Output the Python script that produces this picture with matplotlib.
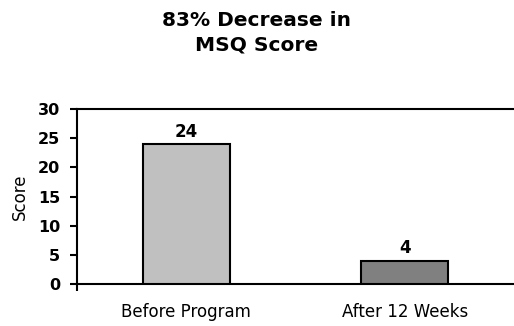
import matplotlib
matplotlib.use("Agg")
import matplotlib.pyplot as plt
from matplotlib.ticker import FixedLocator

categories = ["Before Program", "After 12 Weeks"]
scores = [24, 4]
bar_colors = ["#c0c0c0", "#808080"]
y_ticks = [0, 5, 10, 15, 20, 25, 30]

plt.rcParams["font.family"] = ["DejaVu Sans"]

fig = plt.figure(figsize=(5.14, 3.26), dpi=100)
ax = fig.add_axes([0.1498, 0.1288, 0.8502, 0.5368])

x = list(range(len(categories)))
bars = ax.bar(x, scores, width=0.4, color=bar_colors, edgecolor="black", linewidth=1.5, zorder=3)
for xi, v in zip(x, scores):
    ax.text(xi, v + 0.6, f"{v}", ha="center", va="bottom", fontsize=12, fontweight="bold")

ax.set_xlim(-0.5, len(categories) - 0.5)
ax.set_ylim(0, 30)
ax.set_yticks(y_ticks)
ax.set_yticklabels([str(t) for t in y_ticks], fontsize=11.5, fontweight="bold")
ax.set_xticks(x)
ax.set_xticklabels(categories, fontsize=12)
ax.tick_params(axis="x", length=0, pad=14)
ax.xaxis.set_minor_locator(FixedLocator([-0.5]))
ax.tick_params(axis="x", which="minor", length=5, width=1.5)
ax.tick_params(axis="y", length=5, width=1.5, pad=7)

ax.axhline(30, color="black", linewidth=1.5, zorder=2, clip_on=False)
for side in ["left", "bottom"]:
    ax.spines[side].set_linewidth(1.5)
ax.spines["right"].set_visible(False)
ax.spines["top"].set_visible(False)

ax.set_ylabel("Score", fontsize=12)
ax.yaxis.set_label_coords(-0.11, 0.5)

fig.text(0.5, 0.9, "83% Decrease in\nMSQ Score", ha="center", va="center",
         fontsize=14.5, fontweight="bold", linespacing=1.4)

fig.savefig("out.png", dpi=100)
